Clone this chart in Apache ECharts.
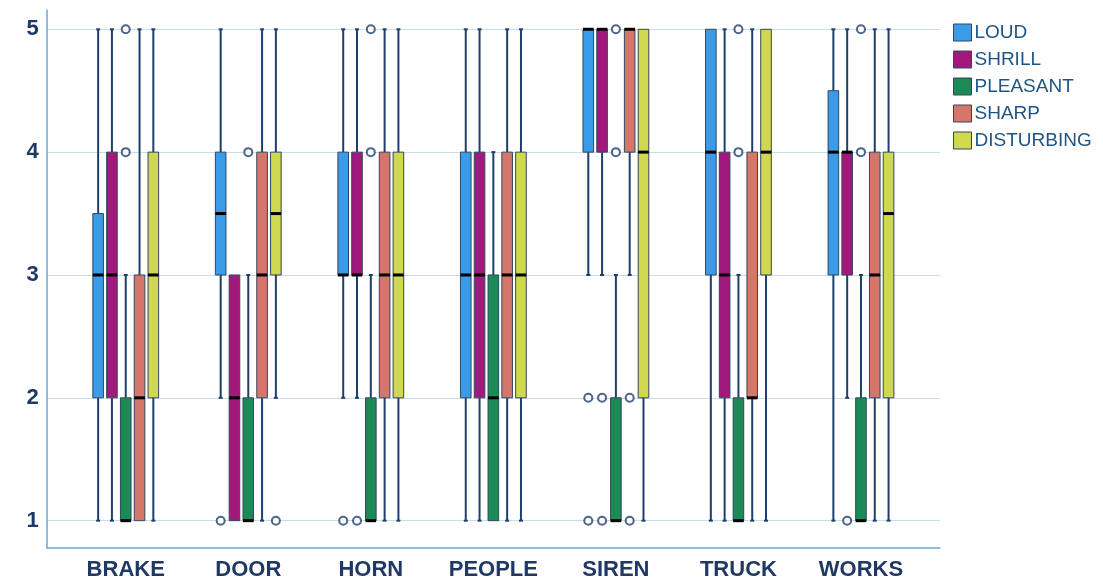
<!DOCTYPE html>
<html>
<head>
<meta charset="utf-8">
<title>Sound ratings</title>
<script src="https://cdn.jsdelivr.net/npm/echarts@6/dist/echarts.min.js"></script>
<style>
    html, body { margin: 0; padding: 0; background: #fff; }
    #chart { width: 1103px; height: 582px; }
</style>
</head>
<body>
<div id="chart"></div>
<script>
const categories = ['BRAKE', 'DOOR', 'HORN', 'PEOPLE', 'SIREN', 'TRUCK', 'WORKS']
const yTicks = [1, 2, 3, 4, 5]

// [min, Q1, median, Q3, max] per category
const loud = [[1, 2, 3, 3.5, 5], [2, 3, 3.5, 4, 5], [2, 3, 3, 4, 5], [1, 2, 3, 4, 5], [3, 4, 5, 5, 5], [1, 3, 4, 5, 5], [1, 3, 4, 4.5, 5]]
const shrill = [[1, 2, 3, 4, 5], [1, 1, 2, 3, 3], [2, 3, 3, 4, 5], [1, 2, 3, 4, 5], [3, 4, 5, 5, 5], [1, 2, 3, 4, 5], [2, 3, 4, 4, 5]]
const pleasant = [[1, 1, 1, 2, 3], [1, 1, 1, 2, 3], [1, 1, 1, 2, 3], [1, 1, 2, 3, 4], [1, 1, 1, 2, 3], [1, 1, 1, 2, 3], [1, 1, 1, 2, 3]]
const sharp = [[1, 1, 2, 3, 5], [1, 2, 3, 4, 5], [1, 2, 3, 4, 5], [1, 2, 3, 4, 5], [3, 4, 5, 5, 5], [1, 2, 2, 4, 5], [1, 2, 3, 4, 5]]
const disturbing = [[1, 2, 3, 4, 5], [2, 3, 3.5, 4, 5], [1, 2, 3, 4, 5], [1, 2, 3, 4, 5], [1, 2, 4, 5, 5], [1, 3, 4, 5, 5], [1, 2, 3.5, 4, 5]]

// outliers: [category, value]
const loudOut = [['DOOR', 1], ['HORN', 1], ['SIREN', 2], ['SIREN', 1]]
const shrillOut = [['HORN', 1], ['SIREN', 2], ['SIREN', 1], ['WORKS', 1]]
const pleasantOut = [['BRAKE', 5], ['BRAKE', 4], ['DOOR', 4], ['HORN', 5], ['HORN', 4], ['SIREN', 5], ['SIREN', 4], ['TRUCK', 5], ['TRUCK', 4], ['WORKS', 5], ['WORKS', 4]]
const sharpOut = [['SIREN', 2], ['SIREN', 1]]
const disturbingOut = [['DOOR', 1]]

const measures = [
    { name: 'LOUD', color: '#3b9be8', boxes: loud, out: loudOut },
    { name: 'SHRILL', color: '#a1197b', boxes: shrill, out: shrillOut },
    { name: 'PLEASANT', color: '#1b8a56', boxes: pleasant, out: pleasantOut },
    { name: 'SHARP', color: '#d5766b', boxes: sharp, out: sharpOut },
    { name: 'DISTURBING', color: '#cfd84e', boxes: disturbing, out: disturbingOut }
]

const navy = '#1f3f6b'
const boxWidth = 10.6
const boxStep = 13.8

function renderBox(offset, color) {
    return function (params, api) {
        const i = api.value(0)
        const x = api.coord([i, 1])[0] + offset
        const py = function (dim) { return api.coord([i, api.value(dim)])[1] }
        const yMin = py(1), yQ1 = py(2), yMed = py(3), yQ3 = py(4), yMax = py(5)
        const half = boxWidth / 2
        const line = function (x1, y1, x2, y2, stroke, w) {
            return { type: 'line', shape: { x1, y1, x2, y2 }, style: { stroke, lineWidth: w } }
        }
        const children = []
        // whiskers with small caps
        if (yMin > yQ1) {
            children.push(line(x, yMin, x, yQ1, navy, 2))
            children.push(line(x - 2, yMin, x + 2, yMin, navy, 2))
        }
        if (yMax < yQ3) {
            children.push(line(x, yQ3, x, yMax, navy, 2))
            children.push(line(x - 2, yMax, x + 2, yMax, navy, 2))
        }
        children.push({
            type: 'rect',
            shape: { x: x - half, y: yQ3, width: boxWidth, height: yQ1 - yQ3 },
            style: { fill: color, stroke: '#34465e', lineWidth: 1 }
        })
        children.push(line(x - half, yMed, x + half, yMed, '#000', 3))
        return { type: 'group', children }
    }
}

const series = []
measures.forEach((m, k) => {
    const offset = (k - 2) * boxStep
    series.push({
        name: m.name,
        type: 'custom',
        renderItem: renderBox(offset, m.color),
        itemStyle: { color: m.color },
        encode: { x: 0, y: [1, 2, 3, 4, 5] },
        data: m.boxes.map((b, i) => [i].concat(b)),
        z: 2
    })
})
measures.forEach((m, k) => {
    const offset = (k - 2) * boxStep
    series.push({
        name: m.name,
        type: 'scatter',
        symbol: 'emptyCircle',
        symbolSize: 8,
        symbolOffset: [offset, 0],
        itemStyle: { color: navy, borderWidth: 2 },
        data: m.out.map(o => [categories.indexOf(o[0]), o[1]]),
        z: 3
    })
})

const chart = echarts.init(document.getElementById('chart'))
chart.setOption({
    backgroundColor: '#fff',
    animation: false,
    textStyle: { fontFamily: 'Liberation Sans' },
    legend: {
        orient: 'vertical',
        left: 948,
        top: 18,
        itemWidth: 18,
        itemHeight: 17,
        itemGap: 8,
        icon: 'rect',
        itemStyle: { borderColor: '#34465e', borderWidth: 1 },
        textStyle: { fontSize: 19, color: '#1f5585', padding: [0, 0, 0, -2] },
        data: measures.map(m => m.name)
    },
    grid: {
        left: 46.7,
        right: 163,
        top: 10,
        bottom: 34.3
    },
    xAxis: {
        type: 'value',
        min: -0.645,
        max: 6.645,
        axisLine: { onZero: false, lineStyle: { color: '#6fa5d2', width: 1.5 } },
        axisTick: { show: false, customValues: [0, 1, 2, 3, 4, 5, 6] },
        splitLine: { show: false },
        axisLabel: {
            customValues: [0, 1, 2, 3, 4, 5, 6],
            formatter: v => categories[v],
            fontSize: 22,
            fontWeight: 'bold',
            color: '#1f3864',
            margin: 11
        }
    },
    yAxis: {
        type: 'value',
        min: 0.78,
        max: 5.157,
        axisLine: { show: true, onZero: false, lineStyle: { color: '#6fa5d2', width: 1.5 } },
        axisTick: { show: false, customValues: yTicks },
        splitLine: { show: true, lineStyle: { color: '#c8dde6', width: 1 } },
        axisLabel: {
            customValues: yTicks,
            fontSize: 22,
            fontWeight: 'bold',
            color: '#1f3864',
            margin: 8
        }
    },
    series
})
</script>
</body>
</html>
